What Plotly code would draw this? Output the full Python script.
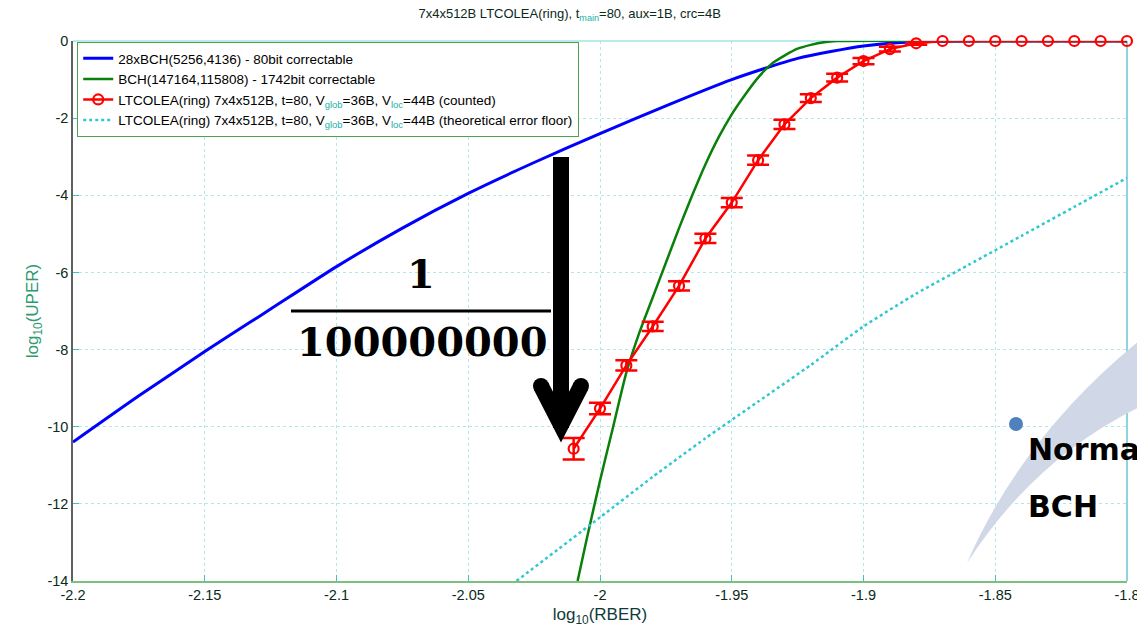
import plotly.graph_objects as go

# ---------------- data ----------------
bch28_x = [-2.2, -2.175, -2.15, -2.133, -2.125, -2.1, -2.075, -2.05, -2.025, -2.0,
           -1.975, -1.95, -1.925, -1.9, -1.88, -1.85, -1.8]
bch28_y = [-10.4, -9.2, -8.05, -7.3, -6.95, -5.85, -4.85, -3.95, -3.15, -2.4,
           -1.68, -1.0, -0.45, -0.13, -0.02, 0.0, 0.0]

bchbig_x = [-2.0085, -2.005, -2.0, -1.995, -1.99, -1.985, -1.98, -1.975, -1.97, -1.965,
            -1.96, -1.955, -1.95, -1.945, -1.94, -1.935, -1.93, -1.925, -1.92, -1.915,
            -1.91, -1.85, -1.8]
bchbig_y = [-14.0, -12.9, -11.4, -10.0, -8.6, -7.55, -6.65, -5.75, -4.85, -4.0,
            -3.2, -2.5, -1.9, -1.4, -0.95, -0.6, -0.38, -0.2, -0.1, -0.03,
            0.0, 0.0, 0.0]

lt_x = [-2.01, -2.0, -1.99, -1.98, -1.97, -1.96, -1.95, -1.94, -1.93, -1.92,
        -1.91, -1.90, -1.89, -1.88, -1.87, -1.86, -1.85, -1.84, -1.83, -1.82,
        -1.81, -1.80]
lt_y = [-10.57, -9.53, -8.41, -7.40, -6.35, -5.12, -4.19, -3.09, -2.16, -1.48,
        -0.95, -0.52, -0.21, -0.06, 0.0, 0.0, 0.0, 0.0, 0.0, 0.0,
        0.0, 0.0]
lt_err = [0.28, 0.15, 0.13, 0.12, 0.12, 0.12, 0.12, 0.12, 0.12, 0.1,
          0.1, 0.08, 0.06, 0.04, 0.0, 0.0, 0.0, 0.0, 0.0, 0.0,
          0.0, 0.0]

floor_x = [-2.0317, -2.0, -1.98, -1.96, -1.94, -1.92, -1.90, -1.88, -1.86, -1.84,
           -1.82, -1.80]
floor_y = [-14.0, -12.35, -11.3, -10.3, -9.35, -8.4, -7.4, -6.55, -5.8, -5.05,
           -4.3, -3.55]

x_ticks = [-2.2, -2.15, -2.1, -2.05, -2.0, -1.95, -1.9, -1.85, -1.8]
x_ticklabels = ["-2.2", "-2.15", "-2.1", "-2.05", "-2", "-1.95", "-1.9", "-1.85", "-1.8"]
y_ticks = [0, -2, -4, -6, -8, -10, -12, -14]
y_ticklabels = ["0", "-2", "-4", "-6", "-8", "-10", "-12", "-14"]

SUB = "<sub><span style='color:#22b0a8'>{}</span></sub>"
names = [
    "28xBCH(5256,4136) - 80bit correctable",
    "BCH(147164,115808) - 1742bit correctable",
    "LTCOLEA(ring) 7x4x512B, t=80, V" + SUB.format("glob") + "=36B, V" + SUB.format("loc") + "=44B (counted)",
    "LTCOLEA(ring) 7x4x512B, t=80, V" + SUB.format("glob") + "=36B, V" + SUB.format("loc") + "=44B (theoretical error floor)",
]

fig = go.Figure()
fig.add_trace(go.Scatter(x=bch28_x, y=bch28_y, mode="lines", name=names[0],
                         line=dict(color="#0000ff", width=3, shape="spline", smoothing=0.6)))
fig.add_trace(go.Scatter(x=bchbig_x, y=bchbig_y, mode="lines", name=names[1],
                         line=dict(color="#0a800a", width=2.5, shape="spline", smoothing=0.6)))
fig.add_trace(go.Scatter(x=lt_x, y=lt_y, mode="lines+markers", name=names[2],
                         line=dict(color="#ff0000", width=2.5),
                         marker=dict(symbol="circle-open", size=10, color="#ff0000", line=dict(width=2.2)),
                         error_y=dict(type="data", array=lt_err, color="#ff0000", thickness=2.5, width=11),
                         cliponaxis=False))
fig.add_trace(go.Scatter(x=floor_x, y=floor_y, mode="lines", name=names[3],
                         line=dict(color="#2ec8d0", width=2.5, dash="dot", shape="spline", smoothing=0.5)))

# ------------- pixel -> paper helpers for overlay decorations -------------
L, R, T, B = 73, 1127, 41, 581
def px(v):
    return (v - L) / (R - L)
def py(v):
    return (B - v) / (B - T)

shapes = []
# frame lines top/right (cyan)
shapes.append(dict(type="line", xref="paper", yref="paper", x0=0, x1=1, y0=1, y1=1,
                   line=dict(color="#70d8dc", width=1.2), layer="below"))
shapes.append(dict(type="line", xref="paper", yref="paper", x0=1, x1=1, y0=0, y1=1,
                   line=dict(color="#40b8c8", width=1.2), layer="below"))

# crescent swoosh
cres = (f"M {px(967)},{py(563)} Q {px(1025)},{py(430)} {px(1150)},{py(332)} "
        f"L {px(1150)},{py(402)} Q {px(1038)},{py(453)} {px(967)},{py(563)} Z")
shapes.append(dict(type="path", xref="paper", yref="paper", path=cres,
                   fillcolor="#d0d8e8", line=dict(width=0)))
# blue dot
shapes.append(dict(type="circle", xref="paper", yref="paper",
                   x0=px(1009), x1=px(1023), y0=py(431), y1=py(417),
                   fillcolor="#4f81bd", line=dict(width=0)))
# arrow shaft
shapes.append(dict(type="path", xref="paper", yref="paper",
                   path=f"M {px(561)},{py(157)} L {px(561)},{py(428)}",
                   line=dict(color="black", width=16)))
# arrow head chevron
shapes.append(dict(type="path", xref="paper", yref="paper",
                   path=f"M {px(541)},{py(386)} L {px(561)},{py(425)} L {px(581)},{py(386)}",
                   line=dict(color="black", width=16)))
for cx in (541, 581):
    shapes.append(dict(type="circle", xref="paper", yref="paper",
                       x0=px(cx - 8), x1=px(cx + 8), y0=py(386 + 8), y1=py(386 - 8),
                       fillcolor="black", line=dict(width=0)))
# fraction bar
shapes.append(dict(type="line", xref="paper", yref="paper",
                   x0=px(291), x1=px(551), y0=py(311), y1=py(311),
                   line=dict(color="black", width=3)))

annotations = [
    dict(xref="paper", yref="paper", x=px(421), y=py(273), text="<b>1</b>", showarrow=False,
         xanchor="center", yanchor="middle", font=dict(family="DejaVu Serif", size=40, color="black")),
    dict(xref="paper", yref="paper", x=px(422), y=py(342), text="<b>100000000</b>", showarrow=False,
         xanchor="center", yanchor="middle", font=dict(family="DejaVu Serif", size=40, color="black")),
    dict(xref="paper", yref="paper", x=px(1026), y=py(449), text="<b>Normal</b>", showarrow=False,
         xanchor="left", yanchor="middle", font=dict(family="DejaVu Sans", size=30, color="black")),
    dict(xref="paper", yref="paper", x=px(1026), y=py(506), text="<b>BCH</b>", showarrow=False,
         xanchor="left", yanchor="middle", font=dict(family="DejaVu Sans", size=30, color="black")),
]

tickfont = dict(family="Liberation Sans, Arial", size=14.5, color="#0a2a1a")

fig.update_layout(
    width=1137, height=633,
    margin=dict(l=L, r=1137 - R, t=T, b=633 - B, autoexpand=False),
    paper_bgcolor="white", plot_bgcolor="white",
    title=dict(text="7x4x512B LTCOLEA(ring), t" + SUB.format("main") + "=80, aux=1B, crc=4B",
               x=0.501, xanchor="center", y=0.978, yanchor="middle",
               font=dict(family="Liberation Sans, Arial", size=13, color="#0a2a1a")),
    showlegend=True,
    legend=dict(x=0.004, y=0.998, xanchor="left", yanchor="top",
                bgcolor="white", bordercolor="#4fa04f", borderwidth=1,
                font=dict(family="Liberation Sans, Arial", size=13.5, color="black"),
                tracegroupgap=0, itemwidth=30),
    xaxis=dict(range=[-2.2, -1.8], tickvals=x_ticks, ticktext=x_ticklabels,
               automargin=False,
               showgrid=True, gridcolor="#b4e8e8", griddash="dot", gridwidth=1,
               zeroline=False, showline=True, linecolor="#7cc07c", linewidth=1.5,
               ticks="inside", ticklen=6, tickcolor="#40c0c8", tickfont=tickfont,
               ticklabeloverflow="allow",
               title=dict(text="log<sub>10</sub>(RBER)", standoff=6,
                          font=dict(family="Liberation Sans, Arial", size=17, color="#0f3a3a"))),
    yaxis=dict(range=[-14, 0], tickvals=y_ticks, ticktext=y_ticklabels,
               automargin=False,
               showgrid=True, gridcolor="#b4e8e8", griddash="dot", gridwidth=1,
               zeroline=False, showline=True, linecolor="#606060", linewidth=1.5,
               ticks="inside", ticklen=6, tickcolor="#40c0c8", tickfont=tickfont,
               ticklabeloverflow="allow",
               title=dict(text="log<sub>10</sub>(UPER)", standoff=4,
                          font=dict(family="Liberation Sans, Arial", size=17, color="#2e9a70"))),
    shapes=shapes,
    annotations=annotations,
)

fig.write_html("out.html", config={"displayModeBar": False},
               post_script="document.body.style.margin='0';")
